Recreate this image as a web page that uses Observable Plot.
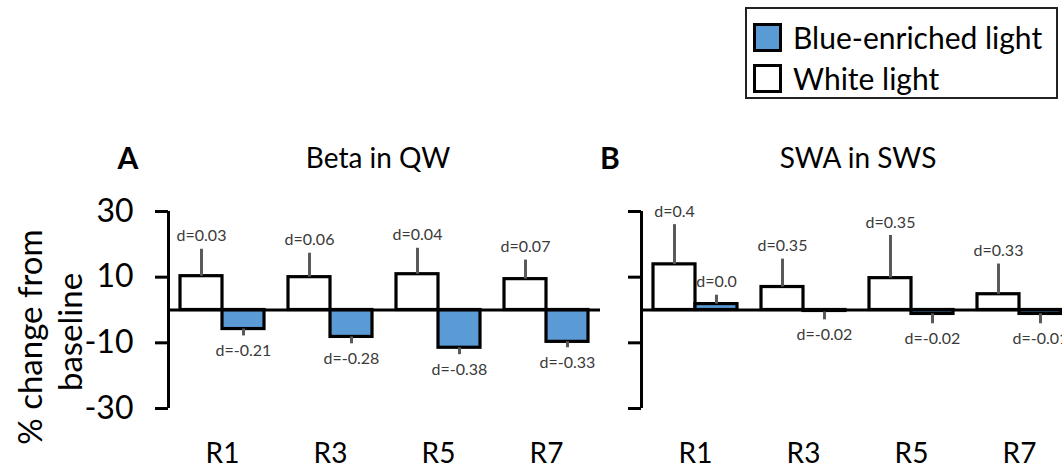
<!DOCTYPE html>
<html><head><meta charset="utf-8">
<script src="https://cdn.jsdelivr.net/npm/d3@7"></script>
<script src="https://cdn.jsdelivr.net/npm/@observablehq/plot@0.6"></script>
<style>
html,body{margin:0;padding:0;background:#fff}
body{width:1062px;height:472px;overflow:hidden;position:relative;font-family:Lato,"Open Sans",sans-serif;color:#000}
.abs{position:absolute}
.panel{position:absolute;top:180px;width:600px;height:292px}
.panel svg{position:absolute;left:0;top:0;background:transparent}
#legend{left:745px;top:7px;width:309px;height:88px;border:2px solid #222;box-sizing:content-box}
.item{position:absolute;left:6px;display:flex;align-items:center;font-size:30px;white-space:nowrap}
.sw{width:23px;height:23px;border:3px solid #000;margin-right:11px}
.ttl{position:absolute;transform:translate(-50%,-50%);font-size:28px;white-space:nowrap}
.ylab{position:absolute;transform:translate(-50%,-50%) rotate(-90deg);font-size:33px;white-space:nowrap}
</style></head><body>
<div id="legend" class="abs"></div>
<div id="titles"></div>
<div id="panelA" class="panel" style="left:0px"></div>
<div id="panelB" class="panel" style="left:473px"></div>
<script>
// ---- data ----
const rounds = ["R1", "R3", "R5", "R7"];
const conditions = ["White light", "Blue-enriched light"];
const legendOrder = ["Blue-enriched light", "White light"];
const colors = ["#ffffff", "#5B9BD5"];
const yTicks = [30, 10, -10, -30];

const betaTitle = "Beta in QW";
const betaWhite = [10.3, 10.0, 10.9, 9.4];
const betaWhiteErr = [8.2, 7.3, 7.9, 5.8];
const betaWhiteD = ["d=0.03", "d=0.06", "d=0.04", "d=0.07"];
const betaBlue = [-5.8, -8.2, -11.5, -9.7];
const betaBlueErr = [2.1, 2.1, 2.1, 1.8];
const betaBlueD = ["d=-0.21", "d=-0.28", "d=-0.38", "d=-0.33"];

const swaTitle = "SWA in SWS";
const swaWhite = [13.9, 7.0, 9.7, 4.8];
const swaWhiteErr = [12.1, 8.5, 13.0, 9.2];
const swaWhiteD = ["d=0.4", "d=0.35", "d=0.35", "d=0.33"];
const swaBlue = [1.8, -0.3, -1.2, -1.2];
const swaBlueErr = [2.7, 2.7, 3.0, 3.0];
const swaBlueD = ["d=0.0", "d=-0.02", "d=-0.02", "d=-0.01"];

const yLabelLines = ["% change from", "baseline"];
const panelLetters = ["A", "B"];

// ---- build ----
function rowsOf(white, whiteErr, whiteD, blue, blueErr, blueD) {
  const rows = [];
  rounds.forEach((r, i) => {
    rows.push({round: r, cond: conditions[0], value: white[i], end: white[i] + Math.sign(white[i] || 1) * whiteErr[i], label: whiteD[i]});
    rows.push({round: r, cond: conditions[1], value: blue[i], end: blue[i] + Math.sign(blue[i] || 1) * blueErr[i], label: blueD[i]});
  });
  return rows;
}

const W = 600, H = 292, ML = 168, MR = 0, MT = 31, MB = 64;
const font = "Lato, 'Open Sans', sans-serif";

function barsPlot(rows) {
  return Plot.plot({
    width: W, height: H, marginLeft: ML, marginRight: MR, marginTop: MT, marginBottom: MB,
    style: {fontFamily: font, background: "transparent", overflow: "visible"},
    fx: {domain: rounds, padding: 0, label: null},
    x: {domain: conditions, paddingInner: 0, paddingOuter: 0.28, axis: null},
    y: {domain: [-30, 30], axis: null},
    color: {domain: conditions, range: colors},
    marks: [
      Plot.axisFx({anchor: "bottom", tickSize: 0, tickPadding: 35, fontSize: 28, label: null, fill: "#000"}),
      Plot.barY(rows, {fx: "round", x: "cond", y: "value", fill: "cond", stroke: "#000", strokeWidth: 3.2, insetLeft: 0, insetRight: 0}),
      Plot.ruleX(rows, {fx: "round", x: "cond", y1: "value", y2: "end", stroke: "#5a5a5a", strokeWidth: 3}),
      Plot.text(rows.filter(d => d.end >= 0), {fx: "round", x: "cond", y: "end", text: "label", dy: -13, fontSize: 16, fill: "#3a3a3a"}),
      Plot.text(rows.filter(d => d.end < 0), {fx: "round", x: "cond", y: "end", text: "label", dy: 15, fontSize: 16, fill: "#3a3a3a"})
    ]
  });
}

function axisPlot(showLabels) {
  return Plot.plot({
    width: W, height: H, marginLeft: ML, marginRight: MR, marginTop: MT, marginBottom: MB,
    style: {fontFamily: font, background: "transparent", overflow: "visible"},
    x: {domain: [0, 1], axis: null},
    y: {domain: [-30, 30], axis: null},
    marks: [
      Plot.axisY(yTicks, {tickSize: 13, strokeWidth: 3, tickPadding: 22, fontSize: 32, fill: "#000", label: null,
        tickFormat: showLabels ? (d => String(d)) : (() => "")}),
      Plot.ruleX([0], {y1: d3.min(yTicks), y2: d3.max(yTicks), stroke: "#000", strokeWidth: 3}),
      Plot.ruleY([0], {stroke: "#000", strokeWidth: 3})
    ]
  });
}

const pA = document.getElementById("panelA");
pA.append(barsPlot(rowsOf(betaWhite, betaWhiteErr, betaWhiteD, betaBlue, betaBlueErr, betaBlueD)));
pA.append(axisPlot(true));
const pB = document.getElementById("panelB");
pB.append(barsPlot(rowsOf(swaWhite, swaWhiteErr, swaWhiteD, swaBlue, swaBlueErr, swaBlueD)));
pB.append(axisPlot(false));

// titles
const T = document.getElementById("titles");
function addText(cls, txt, x, y, extra) {
  const d = document.createElement("div");
  d.className = cls; d.textContent = txt;
  d.style.left = x + "px"; d.style.top = y + "px";
  if (extra) Object.assign(d.style, extra);
  T.append(d);
}
addText("ttl", panelLetters[0], 128, 157, {fontWeight: "bold", fontSize: "30px"});
addText("ttl", betaTitle, 378, 157);
addText("ttl", panelLetters[1], 610, 157, {fontWeight: "bold", fontSize: "30px"});
addText("ttl", swaTitle, 858, 157);
addText("ylab", yLabelLines[0], 29, 337);
addText("ylab", yLabelLines[1], 69, 332);

// legend
const color = d3.scaleOrdinal(conditions, colors);
const L = document.getElementById("legend");
legendOrder.forEach((c, i) => {
  const it = document.createElement("div");
  it.className = "item";
  it.style.top = (10 + i * 41) + "px";
  const sw = document.createElement("div");
  sw.className = "sw"; sw.style.background = color(c);
  const tx = document.createElement("span");
  tx.textContent = c;
  it.append(sw, tx);
  L.append(it);
});
</script>
</body></html>
